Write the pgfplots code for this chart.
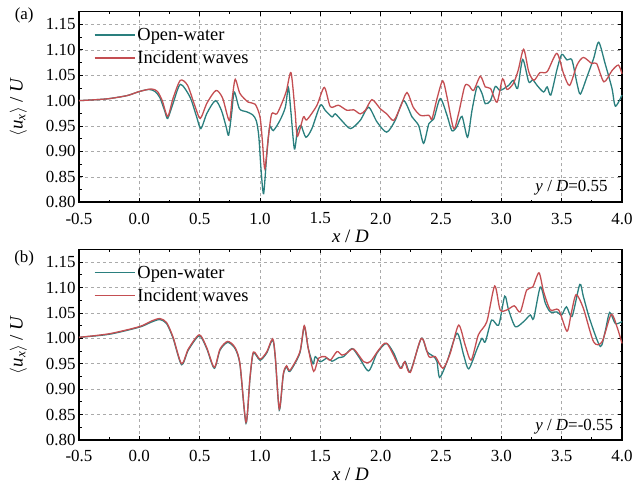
\documentclass[border=0pt]{standalone}
\usepackage{amsmath}
\usepackage{fontspec}
\setmainfont{Liberation Serif}
\usepackage{pgfplots}
\pgfplotsset{compat=1.18}
\definecolor{teal1}{RGB}{42,127,126}
\definecolor{red1}{RGB}{196,78,82}
\definecolor{gridgray}{RGB}{170,170,170}
\newcommand\fs{\fontsize{17}{20}\selectfont}
\newcommand\fl{\fontsize{19}{22}\selectfont}

\pgfplotsset{
  panel/.style={
    scale only axis, width=543bp, height=190.6bp, clip=false,
    xmin=-0.5, xmax=4.0, ymin=0.80, ymax=1.175,
    xtick={-0.5,0,...,4.0}, ytick={0.80,0.85,...,1.16},
    minor xtick={-0.25,0.25,...,3.8}, minor ytick={0.825,0.875,...,1.16},
    grid=major, major grid style={gridgray, dashed, line width=0.6bp},
    tick align=inside, major tick length=4bp, minor tick length=2.5bp,
    every tick/.style={black, line width=0.8bp},
    axis line style={line width=1.6bp},
    xticklabel style={yshift=-7bp, /pgf/number format/.cd, fixed, fixed zerofill, precision=1, assume math mode=true},
    yticklabel style={/pgf/number format/.cd, fixed, fixed zerofill, precision=2, assume math mode=true},
    tick label style={font=\fs},
    label style={font=\fl},
    xlabel={\textit{x} / \textit{D}},
    ylabel={$\left\langle\text{\itshape u}_{\text{\itshape x}}\right\rangle$ / \textit{U}},
    xlabel style={yshift=1bp},
    ylabel style={yshift=12bp},
    legend style={at={(0.025,0.93)}, anchor=north west, draw=none, fill=none,
      font=\fontsize{18.5}{21}\selectfont, row sep=5bp, inner sep=1bp},
    legend cell align=left,
    legend image code/.code={\draw[##1, line width=1.7bp] (0bp,0.3bp) -- (40bp,0.3bp);},
    every axis plot/.append style={line width=1.3bp},
  }
}

\begin{document}
\begin{tikzpicture}
\path[use as bounding box] (0bp,0bp) rectangle (644bp,485bp);

\begin{axis}[panel, at={(79bp,282.7bp)}, anchor=south west]
\addplot[teal1, smooth, tension=0.45] coordinates {(-0.5,1.000) (-0.35,1.002) (-0.25,1.004) (-0.1,1.010) (0.0,1.018) (0.08,1.022) (0.13,1.018) (0.17,1.006) (0.21,0.980) (0.235,0.965) (0.28,0.995) (0.34,1.032) (0.42,1.007) (0.475,0.968) (0.51,0.945) (0.56,0.975) (0.63,1.000) (0.68,0.981) (0.72,0.948) (0.74,0.932) (0.765,0.975) (0.787,1.017) (0.83,0.984) (0.89,0.978) (0.94,0.972) (0.97,0.960) (0.99,0.930) (1.01,0.860) (1.03,0.817) (1.055,0.890) (1.08,0.948) (1.11,0.941) (1.165,0.961) (1.21,0.987) (1.235,1.026) (1.255,0.981) (1.285,0.905) (1.31,0.941) (1.34,0.951) (1.38,0.928) (1.43,0.945) (1.50,0.991) (1.54,0.981) (1.597,0.968) (1.624,0.974) (1.68,0.960) (1.75,0.945) (1.83,0.961) (1.90,0.987) (1.97,0.958) (2.05,0.938) (2.12,0.961) (2.19,1.000) (2.26,0.968) (2.315,0.951) (2.356,0.916) (2.40,0.955) (2.44,0.964) (2.494,1.004) (2.55,0.971) (2.59,0.941) (2.63,0.948) (2.674,0.969) (2.72,0.928) (2.757,0.981) (2.80,1.028) (2.84,1.014) (2.867,0.994) (2.91,1.000) (2.95,1.028) (2.99,1.020) (3.06,1.030) (3.10,1.040) (3.135,1.024) (3.177,1.081) (3.227,1.037) (3.26,1.041) (3.296,1.030) (3.35,1.017) (3.38,1.027) (3.41,1.011) (3.46,1.060) (3.50,1.091) (3.544,1.080) (3.585,1.080) (3.627,1.034) (3.655,1.013) (3.71,1.047) (3.765,1.083) (3.807,1.115) (3.86,1.073) (3.917,1.024) (3.945,0.989) (4.0,1.011)};
\addplot[red1, smooth, tension=0.45] coordinates {(-0.5,1.000) (-0.35,1.002) (-0.25,1.004) (-0.1,1.010) (0.0,1.018) (0.1,1.023) (0.15,1.018) (0.19,1.000) (0.235,0.969) (0.28,1.005) (0.34,1.040) (0.40,1.030) (0.46,0.990) (0.505,0.965) (0.56,0.995) (0.635,1.020) (0.69,1.005) (0.745,0.961) (0.77,1.005) (0.795,1.042) (0.834,1.014) (0.903,0.997) (0.96,0.993) (1.0,0.968) (1.02,0.920) (1.04,0.866) (1.07,0.930) (1.097,0.974) (1.14,0.974) (1.19,1.000) (1.22,1.020) (1.257,1.055) (1.29,0.981) (1.31,0.930) (1.36,0.968) (1.387,0.962) (1.47,0.990) (1.533,1.026) (1.583,0.988) (1.65,0.991) (1.72,0.981) (1.776,0.982) (1.83,0.974) (1.873,0.981) (1.928,1.002) (1.997,0.984) (2.05,0.974) (2.108,0.961) (2.163,0.987) (2.218,1.016) (2.27,0.987) (2.33,0.971) (2.40,0.971) (2.425,0.964) (2.467,1.004) (2.514,1.039) (2.55,1.007) (2.605,0.945) (2.645,0.974) (2.696,1.028) (2.73,1.030) (2.77,1.020) (2.826,1.048) (2.867,1.027) (2.91,1.024) (2.964,0.997) (3.01,1.043) (3.047,1.022) (3.10,1.034) (3.14,1.060) (3.185,1.101) (3.227,1.057) (3.27,1.040) (3.32,1.055) (3.38,1.057) (3.46,1.093) (3.516,1.053) (3.566,1.030) (3.627,1.070) (3.68,1.085) (3.75,1.073) (3.79,1.073) (3.85,1.037) (3.917,1.059) (3.97,1.070) (4.0,1.053)};
\legend{Open-water, Incident waves}
\node[font=\fs, anchor=center] at (rel axis cs:-0.101,0.983) {(a)};
\node[font=\fs, anchor=east] at (rel axis cs:0.98,0.075) {\textit{y} / \textit{D}=0.55};
\end{axis}

\begin{axis}[panel, at={(79bp,45bp)}, anchor=south west]
\addplot[teal1, smooth, tension=0.45] coordinates {(-0.5,1.002) (-0.25,1.008) (0.0,1.022) (0.10,1.032) (0.17,1.037) (0.226,1.029) (0.28,1.000) (0.35,0.948) (0.406,0.977) (0.497,1.005) (0.558,0.980) (0.621,0.941) (0.669,0.977) (0.732,0.992) (0.793,0.980) (0.834,0.948) (0.884,0.833) (0.917,0.921) (0.945,0.971) (1.0,0.957) (1.055,0.971) (1.105,0.997) (1.127,0.961) (1.16,0.859) (1.193,0.928) (1.22,0.944) (1.248,0.935) (1.33,0.971) (1.367,1.023) (1.40,0.980) (1.44,0.950) (1.458,0.964) (1.5,0.954) (1.555,0.961) (1.597,0.955) (1.652,0.962) (1.693,0.964) (1.762,0.980) (1.818,0.964) (1.90,0.936) (1.97,0.971) (2.047,0.990) (2.108,0.971) (2.163,0.942) (2.204,0.954) (2.246,0.935) (2.337,1.000) (2.384,0.974) (2.44,0.964) (2.467,0.954) (2.489,0.923) (2.55,0.954) (2.633,1.010) (2.688,0.967) (2.73,0.940) (2.80,0.980) (2.84,1.000) (2.867,0.993) (2.92,1.036) (2.978,1.026) (3.028,1.083) (3.06,1.056) (3.116,1.023) (3.185,1.033) (3.24,1.046) (3.268,1.039) (3.323,1.101) (3.365,1.069) (3.406,1.052) (3.46,1.052) (3.50,1.046) (3.54,1.062) (3.586,1.043) (3.65,1.106) (3.68,1.082) (3.735,1.036) (3.82,0.984) (3.86,1.013) (3.898,1.051) (3.945,1.029) (4.0,1.033)};
\addplot[red1, smooth, tension=0.45] coordinates {(-0.5,1.002) (-0.25,1.009) (0.0,1.023) (0.10,1.034) (0.17,1.039) (0.226,1.031) (0.28,1.002) (0.35,0.950) (0.406,0.979) (0.497,1.007) (0.558,0.982) (0.621,0.943) (0.669,0.979) (0.732,0.994) (0.793,0.982) (0.834,0.950) (0.884,0.835) (0.917,0.923) (0.945,0.973) (1.0,0.959) (1.055,0.973) (1.105,0.999) (1.127,0.963) (1.16,0.861) (1.193,0.930) (1.22,0.946) (1.248,0.937) (1.33,0.973) (1.367,1.025) (1.40,0.980) (1.445,0.935) (1.486,0.961) (1.54,0.964) (1.583,0.957) (1.638,0.974) (1.68,0.967) (1.72,0.971) (1.776,0.979) (1.86,0.954) (1.914,0.954) (1.983,0.977) (2.052,0.990) (2.163,0.941) (2.199,0.954) (2.246,0.933) (2.337,1.000) (2.40,0.964) (2.453,0.964) (2.516,0.941) (2.577,0.971) (2.646,1.026) (2.70,0.987) (2.75,0.957) (2.81,1.007) (2.88,1.033) (2.945,1.103) (2.99,1.056) (3.047,1.056) (3.108,1.064) (3.157,1.052) (3.21,1.095) (3.26,1.101) (3.312,1.129) (3.35,1.092) (3.406,1.056) (3.475,1.056) (3.544,1.014) (3.58,1.050) (3.62,1.086) (3.68,1.059) (3.765,0.993) (3.834,0.993) (3.91,1.047) (3.958,1.023) (4.0,0.990)};
\legend{Open-water, Incident waves}
\node[font=\fs, anchor=center] at (rel axis cs:-0.101,0.95) {(b)};
\node[font=\fs, anchor=east] at (rel axis cs:0.99,0.07) {\textit{y} / \textit{D}=-0.55};
\end{axis}
\end{tikzpicture}
\end{document}
